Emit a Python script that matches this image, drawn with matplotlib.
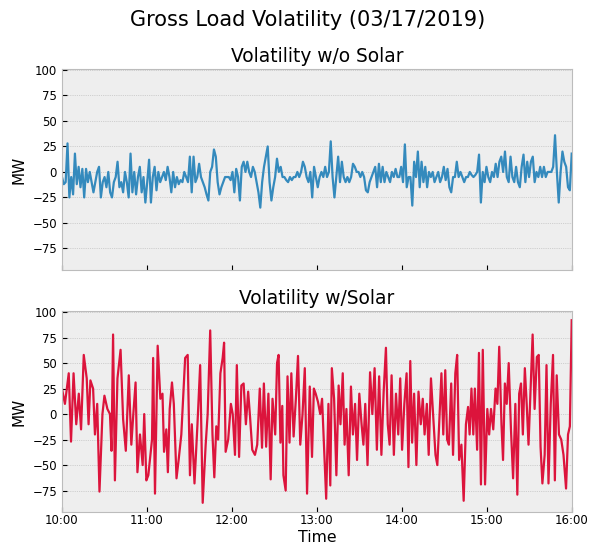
import matplotlib
matplotlib.use("Agg")
import matplotlib.pyplot as plt
import matplotlib.dates as mdates
import pandas as pd

plt.style.use("bmh")

title = "Gross Load Volatility (03/17/2019)"
title_top = "Volatility w/o Solar"
title_bottom = "Volatility w/Solar"
start_time = "2019-03-17 10:00"
end_time = "2019-03-17 16:00"

# Volatility without solar (MW), evenly spaced from 10:00 to 16:00
no_solar = [
    -5, -12, -10, 28, -25, -5, -22, 18, -12, 5, -15, 3, -25, 3, -10, 0, -10, -20, -10, 0,
    5, -25, -10, -5, -15, 0, -20, -25, -10, -5, 10, -15, -10, -20, 0, -10, -25, 18, -20, 0,
    -22, -5, 5, -20, -5, -30, -10, 12, -30, -5, 5, -18, 0, -10, -5, 0, -8, 5, -5, -20,
    0, -15, -5, -12, -8, -10, 0, -5, -10, 15, -20, 15, -10, -5, 8, -5, -10, -15, -22, -28,
    0, 5, 22, 15, -10, -22, -15, -10, -5, -5, -5, -8, 0, -20, 3, -5, -28, 5, 10, 0,
    10, 0, -5, 5, 0, -10, -20, -35, -10, 5, 15, 25, -10, -28, -15, -5, 13, 0, 5, -5,
    -5, -8, -10, -5, -8, -5, -5, 0, -5, 0, 10, 5, -5, -10, 0, -25, 5, -5, -15, -5,
    0, -5, 5, -5, 0, 30, -5, -25, -5, 15, -10, 10, -5, -10, -5, -10, -5, 8, 5, 0,
    0, -5, 0, -5, -18, -20, -10, -5, 0, 5, -15, 8, -10, 5, -10, 0, -5, -10, 0, -5,
    3, -5, -5, 5, -10, 27, -15, -5, -5, -33, 10, -5, 20, -15, 10, -10, 5, -15, 0, -5,
    0, -10, -5, 0, -10, -5, 5, -8, 3, -15, -20, -5, -5, 10, -5, 0, -5, -10, -5, -5,
    0, -3, -5, -3, 0, 17, -30, 0, -10, 5, -5, -10, 0, -5, 8, -5, 10, 15, 0, 20,
    -5, -10, 15, -5, -10, 5, -10, -15, 5, 17, -10, 10, -5, 10, 15, -10, 0, -5, 5, -5,
    5, -5, 0, 0, 0, 5, 36, 0, -30, 0, 20, 10, 5, -15, -18, 18,
]

# Volatility with solar: minutes after 10:00 and MW values
solar_minutes = [
    0, 2.1, 4.8, 6.4, 8.2, 10.1, 11.9, 13.5, 15.4, 17.5, 18.8, 20.1, 22.0, 23.3, 24.9, 26.5,
    28.6, 30.0, 32.1, 33.9, 35.0, 36.1, 37.4, 39.2, 41.4, 43.2, 45.1, 47.2, 49.0, 50.4,
    52.0, 53.3, 55.1, 57.0, 58.1, 59.6, 61.0, 63.6, 64.4, 65.7, 67.6, 69.5, 71.0, 72.1,
    73.7, 74.8, 76.1, 77.7, 79.0, 80.9, 82.4, 84.3, 87.0, 88.8, 90.4, 91.7, 93.6, 95.7,
    97.6, 99.4, 101.5, 102.9, 104.7, 106.3, 107.6, 109.0, 110.3, 111.9, 113.5, 114.5,
    115.6, 117.4, 119.3, 120.6, 122.2, 123.5, 125.1, 126.7, 128.3, 129.9, 131.5, 132.8,
    134.4, 136.3, 137.9, 139.7, 141.3, 142.6, 144.2, 145.8, 147.4, 148.7, 150.6, 151.9,
    153.0, 154.3, 155.6, 156.4, 158.0, 159.3, 160.7, 162.0, 163.6, 165.2, 166.7, 168.3,
    169.9, 171.5, 173.1, 175.0, 176.6, 177.9, 179.2, 180.8, 182.4, 183.7, 185.0, 186.6,
    188.2, 189.5, 190.6, 192.2, 193.8, 195.4, 196.7, 198.3, 199.6, 200.9, 202.5, 204.1,
    205.5, 207.0, 208.4, 210.0, 211.6, 212.9, 214.2, 215.8, 217.6, 219.2, 220.8, 222.4,
    224.0, 225.6, 227.2, 228.8, 230.1, 231.4, 232.8, 234.4, 235.9, 237.5, 238.9, 240.2,
    241.8, 243.4, 244.7, 246.0, 247.3, 248.7, 250.3, 251.8, 253.4, 254.8, 256.1, 257.7,
    259.0, 260.6, 261.9, 263.8, 265.1, 266.7, 268.0, 269.3, 270.7, 272.0, 273.3, 274.9,
    276.2, 277.8, 279.1, 280.5, 282.1, 283.7, 285.3, 286.8, 287.9, 289.2, 290.5, 291.6,
    293.2, 294.5, 295.9, 297.2, 298.8, 300.4, 301.7, 303.0, 304.6, 306.2, 307.5, 308.8,
    310.4, 311.5, 312.8, 314.1, 315.5, 317.1, 318.6, 320.2, 321.6, 322.9, 324.2, 325.5,
    326.9, 328.2, 329.5, 331.1, 332.4, 333.8, 335.4, 336.7, 338.0, 339.3, 340.9, 342.2,
    343.6, 345.2, 346.8, 348.1, 349.4, 351.0, 352.6, 354.2, 356.0, 357.4, 358.7, 360.0,
]
with_solar = [
    25, 10, 40, -27, 40, -10, 20, -15, 58, 35, -10, 33, 25, -20, 10, -76,
    0, 18, 5, 0, -36, 78, -65, 35, 63, -5, -36, 38, -30, 0,
    31, -57, -20, -50, 0, -65, -60, -25, 55, -78, 67, 15, 20, -37,
    -15, -57, 5, 31, 10, -63, -45, -20, 55, 58, -60, -10, -68, -10,
    48, -87, -30, 0, 82, -20, -62, -12, -25, 40, 55, 70,
    -37, -25, 10, 0, -40, 48, -42, 28, 30, -10, 22, -2,
    -35, -40, -30, 25, -33, 30, -32, 20, -64, 15, -20, 50,
    58, -28, 8, -60, -75, 37, -28, 40, -22, 15, 57, -30,
    0, 45, -78, 27, -42, 25, 20, 12, 0, 15, -30, -83,
    10, -70, 45, 15, -60, 28, -10, 40, -30, 5, -60, 27,
    -20, 10, -45, 20, -10, -30, 10, -50, 41, 0, 45, -35,
    37, -40, 22, 65, -10, -30, 38, -40, 20, -20, 35, -35,
    10, 40, -52, 52, -28, 20, -50, 22, -10, 15, -20, 10,
    -40, 35, 5, -40, -50, 0, 40, -20, 43, -25, -30, 30,
    -40, 40, 58, -45, -30, -85, -10, 7, -20, 25, -20, 25,
    -35, 60, -69, 63, -69, 5, -20, 5, -15, 25, 10, 66,
    -10, -45, 30, 10, 50, -15, -63, 10, -79, 20, 30, -20,
    45, 10, -30, 30, 78, 5, 56, 58, -32, -68, -40, 48,
    -68, 10, 58, -65, 38, -20, -25, -40, -73, -20, -12, 92,
]

t_top = pd.date_range(start_time, end_time, periods=len(no_solar))
t_bot = pd.Timestamp(start_time) + pd.to_timedelta(solar_minutes, unit="min")

fig, (ax1, ax2) = plt.subplots(2, 1, sharex=True, sharey=True, figsize=(5.9, 5.47), dpi=100)
fig.subplots_adjust(left=0.105, right=0.969, top=0.874, bottom=0.064, hspace=0.205)

ax1.plot(t_top, no_solar, color="#348ABD", lw=1.6)
ax2.plot(t_bot, with_solar, color="crimson", lw=1.6)

for ax, ttl in ((ax1, title_top), (ax2, title_bottom)):
    ax.set_title(ttl, fontsize=13.4, pad=5)
    ax.set_ylabel("MW", fontsize=11)
    ax.tick_params(labelsize=8.5)
    ax.tick_params(axis="x", pad=1.8)
    ax.set_yticks([-75, -50, -25, 0, 25, 50, 75, 100])
    ax.grid(axis="x", visible=False)
    ax.grid(axis="y", linestyle=":", color="#b2b2b2")

ax2.set_xlim(pd.Timestamp(start_time), pd.Timestamp(end_time))
ax2.xaxis.set_major_locator(mdates.HourLocator())
ax2.xaxis.set_major_formatter(mdates.DateFormatter("%H:%M"))
ax2.set_xlabel("Time", fontsize=11.3, labelpad=2)
ax2.set_ylim(-96, 101)

fig.text(0.522, 0.9634, title, fontsize=15, ha="center", va="center")
fig.savefig("out.png", dpi=100)
